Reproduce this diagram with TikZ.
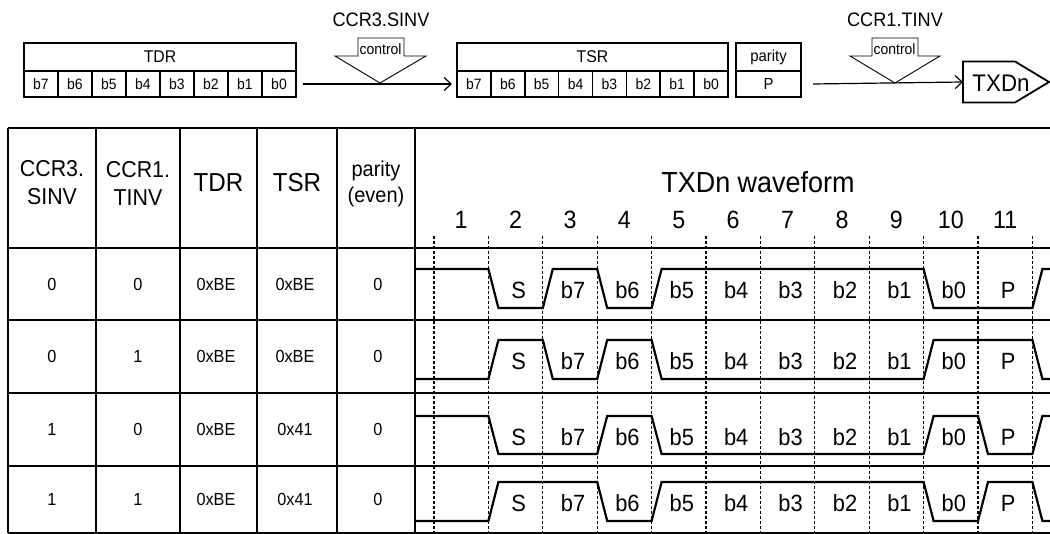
\documentclass[tikz,border=0pt]{standalone}
\usepackage{fontspec}
\setmainfont[FakeStretch=0.93]{Liberation Sans}
\usetikzlibrary{arrows.meta}
\newcommand\fsz[2]{\fontsize{#1}{#2}\selectfont}
\begin{document}
\begin{tikzpicture}[x=1pt,y=-1pt,
  reg/.style={draw, line width=1.6pt, inner sep=0pt, outer sep=0pt, minimum height=26pt},
  regcell/.style={reg, minimum width=34pt, font=\fsz{15}{17}},
  gridline/.style={line width=1.4pt},
  wave/.style={line width=2.2pt, line join=miter},
  tick/.style={line width=1.3pt, dash pattern=on 3pt off 2pt},
  arr/.style={line width=1.2pt, -{Straight Barb[length=7pt,width=13pt]}},
  ctrl/.style={line width=0.9pt},
  hdr/.style={font=\fsz{23}{28}, align=center, inner sep=0pt},
  val/.style={font=\fsz{17.5}{20}, inner sep=0pt},
  num/.style={font=\fsz{25}{27}, inner sep=0pt},
  wlbl/.style={font=\fsz{23.5}{25}, inner sep=0pt}]
\useasboundingbox (0,0) rectangle (1050,534);

% ---- top block diagram ----
\node[reg, minimum width=272pt, minimum height=28pt, font=\fsz{17}{19}] (tdr) at (160,57) {TDR};
\node[reg, minimum width=271pt, minimum height=28pt, font=\fsz{17}{19}] (tsr) at (592.5,57) {TSR};
\foreach \b [count=\i from 0] in {7,6,5,4,3,2,1,0} {
  \node[regcell] (tdr\b) at ({24+34*(\i+0.5)},84) {b\b};
  \node[regcell, minimum width=33.875pt] (tsr\b) at ({457+33.875*(\i+0.5)},84) {b\b};
}
\node[reg, minimum width=65pt, minimum height=28pt, font=\fsz{16}{18}] (par) at (768.5,57) {parity};
\node[reg, minimum width=65pt, font=\fsz{16}{18}] (parP) at (768.5,84) {P};

\node[minimum width=52pt, minimum height=41pt, inner sep=0pt, outer sep=0pt, anchor=west] (txdn) at (963,82) {};
\draw[line width=1.8pt] (txdn.north west) -- (txdn.north east) -- ([xshift=34pt]txdn.east)
   -- (txdn.south east) -- (txdn.south west) -- cycle;
\node[font=\fsz{24}{26}, inner sep=0pt] (txdnlbl) at (1001,83) {TXDn};

\draw[arr] ([xshift=7pt]tdr0.east) -- ([xshift=-5pt]tsr7.west);
\draw[arr] ([xshift=12pt]parP.east) -- (txdn.west);

% control arrows
\coordinate (tipA) at (380,83);
\draw[ctrl] (358,38) -- (404,38) -- (404,56) -- (426,56) -- (tipA) -- (335,56) -- (358,56) -- cycle;
\node[font=\fsz{19.5}{22}, inner sep=0pt] (sinv) at (381,20) {CCR3.SINV};
\node[font=\fsz{15}{17}, anchor=base west, inner sep=0pt] (ctlA) at (359.5,55) {control};

\coordinate (tipB) at (895,83);
\draw[ctrl] (872,38) -- (918,38) -- (918,56) -- (940,56) -- (tipB) -- (850,56) -- (872,56) -- cycle;
\node[font=\fsz{19.5}{22}, inner sep=0pt] (tinv) at (895,20) {CCR1.TINV};
\node[font=\fsz{15}{17}, anchor=base west, inner sep=0pt] (ctlB) at (873.5,55) {control};

% ---- table ----
\foreach \i in {0,...,11}
  \draw[tick] ({434+54.4*\i},236) -- ({434+54.4*\i},533);
\foreach \y in {128,248,320,393,466,533}
  \draw[gridline] (8,\y) -- (1050,\y);
\foreach \x in {8,96,180,257,337,415}
  \draw[gridline] (\x,128) -- (\x,533);

\node[hdr] (hA) at (52,183) {CCR3.\\SINV};
\node[hdr] (hB) at (138,183) {CCR1.\\TINV};
\node[hdr, font=\fsz{26}{28}] (hC) at (218.5,183) {TDR};
\node[hdr, font=\fsz{26}{28}] (hD) at (297,183) {TSR};
\node[hdr, font=\fsz{21.5}{26}] (hE) at (376,184) {parity\\(even)};
\node[font=\fsz{29}{32}, inner sep=0pt] (hW) at (758,182) {TXDn waveform};
\foreach \n in {1,...,11}
  \node[num] (n\n) at ({434+54.4*(\n-0.5)},220) {\n};

% data values
\foreach \ya/\va/\vb/\vc/\vd/\ve [count=\r] in {284/0/0/0xBE/0xBE/0, 356.5/0/1/0xBE/0xBE/0, 429.5/1/0/0xBE/0x41/0, 499.5/1/1/0xBE/0x41/0} {
  \node[val] (r\r a) at (52,\ya) {\va};
  \node[val] (r\r b) at (138,\ya) {\vb};
  \node[val] (r\r c) at (216,\ya) {\vc};
  \node[val] (r\r d) at (295,\ya) {\vd};
  \node[val] (r\r e) at (378,\ya) {\ve};
}

% waveforms
\draw[wave] (415,269) -- (488.4,269) -- (498.4,308) -- (542.8,308) -- (552.8,269) -- (597.2,269) -- (607.2,308) -- (651.6,308) -- (661.6,269) -- (923.6,269) -- (933.6,308) -- (1032.4,308) -- (1042.4,269) -- (1050,269);
\draw[wave] (415,379) -- (488.4,379) -- (498.4,340) -- (542.8,340) -- (552.8,379) -- (597.2,379) -- (607.2,340) -- (651.6,340) -- (661.6,379) -- (923.6,379) -- (933.6,340) -- (1032.4,340) -- (1042.4,379) -- (1050,379);
\draw[wave] (415,416) -- (488.4,416) -- (498.4,454) -- (597.2,454) -- (607.2,416) -- (651.6,416) -- (661.6,454) -- (923.6,454) -- (933.6,416) -- (978,416) -- (988,454) -- (1032.4,454) -- (1042.4,416) -- (1050,416);
\draw[wave] (415,521) -- (488.4,521) -- (498.4,482) -- (597.2,482) -- (607.2,521) -- (651.6,521) -- (661.6,482) -- (923.6,482) -- (933.6,521) -- (978,521) -- (988,482) -- (1032.4,482) -- (1042.4,521) -- (1050,521);

\foreach \yy [count=\r] in {290,361,437,503}
  \foreach \l [count=\i] in {S,b7,b6,b5,b4,b3,b2,b1,b0,P}
    \node[wlbl] (w\r-\i) at ({434+54.4*(\i+0.5)+3},\yy) {\l};
\end{tikzpicture}
\end{document}
